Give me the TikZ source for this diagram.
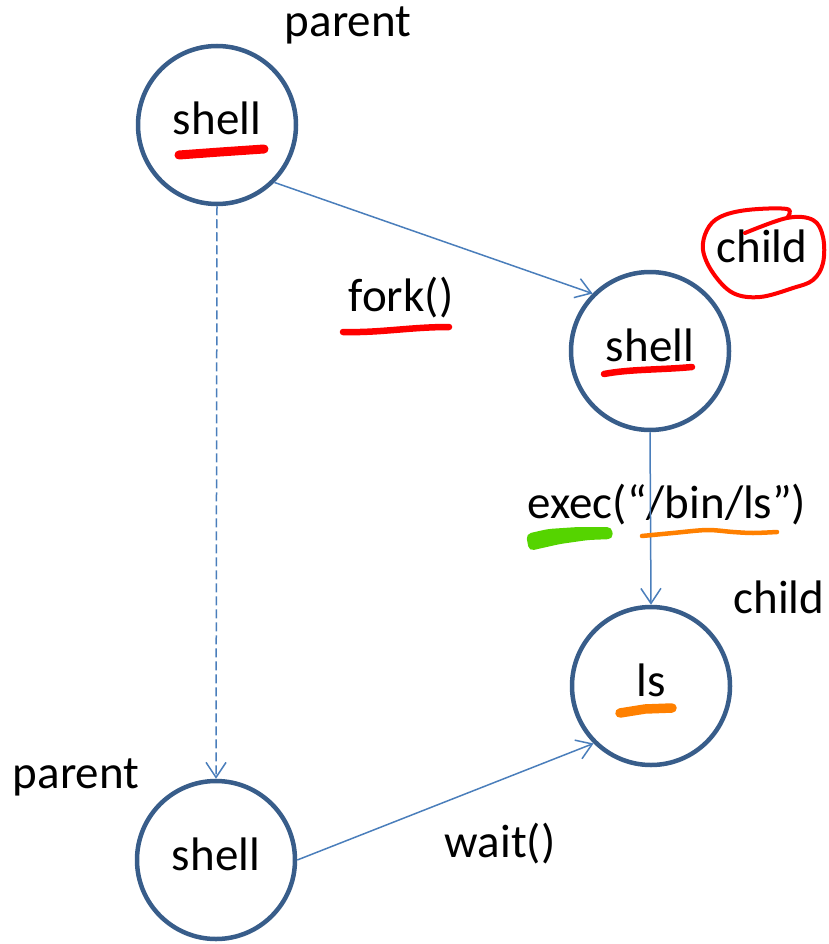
\documentclass[tikz,border=0pt]{standalone}
\usepackage{fontspec}
\setmainfont{Carlito}
\usetikzlibrary{arrows.meta}
\definecolor{circ}{HTML}{385D8A}
\definecolor{conn}{HTML}{4A7EBB}
\definecolor{scred}{HTML}{FF0000}
\definecolor{scorange}{HTML}{FF8000}
\definecolor{scgreen}{HTML}{55D400}
\begin{document}
\begin{tikzpicture}[x=1pt,y=-1pt,
  proc/.style={circle, draw=circ, line width=4.5pt, minimum size=158pt, inner sep=0pt,
    font=\fontsize{47}{50}\selectfont, text height=32pt, text depth=12pt},
  lbl/.style={font=\fontsize{47}{50}\selectfont, inner sep=0pt, anchor=base},
  link/.style={draw=conn, line width=1.5pt, -{Straight Barb[length=15pt,width=20pt,line width=1.5pt]}},
  scrib/.style={line width=#1, line cap=round, line join=round},
]
\useasboundingbox (0,0) rectangle (828,944);

% processes
\node[proc] (top) at (217,125) {shell};
\node[proc] (mid) at (650,351) {shell};
\node[proc] (ls)  at (651,686) {ls};
\node[proc] (bot) at (216,860) {shell};

% labels
\node[lbl] (ptop) at (348,37) {parent};
\node[lbl] (cmid) at (762,262) {child};
\node[lbl] (fork) at (401,311) {fork()};
\node[lbl] (exec) at (667,518) {exec(“/bin/ls”)};
\node[lbl] (cls)  at (779,613) {child};
\node[lbl] (pbot) at (76,788) {parent};
\node[lbl] (wait) at (500,857) {wait()};

% connectors
\draw[link] (top.-45) -- (mid.135);
\draw[link] (mid.south) -- (ls.north);
\draw[link, dash pattern=on 9pt off 4pt] (top.south) -- (bot.north);
\draw[link] (bot.east) -- (ls.225);

% red annotations
\draw[scrib=9pt, scred] (179,155) -- (220,152) -- (264,149);
\draw[scrib=6.5pt, scred] (604,374) .. controls (630,369) and (660,370) .. (692,367);
\draw[scrib=6.5pt, scred] (343,332) .. controls (380,333) and (410,327) .. (449,327);
\draw[scrib=4pt, scred] plot[smooth, tension=0.6] coordinates {
  (745,233) (787,218) (813,220) (823,237) (823,263) (813,280) (793,288)
  (760,297) (733,293) (713,273) (703,250) (707,230) (720,217) (747,210)
  (787,209) (787,218)};

% green annotation
\fill[scgreen, rounded corners=5pt] (526,534) -- (548,529) -- (578,527) -- (612,527)
  -- (613,539) -- (588,540) -- (560,544) -- (529,551) -- cycle;

% orange annotations
\draw[scrib=4.5pt, scorange] plot[smooth] coordinates {
  (642,536) (673,533) (707,530) (733,532) (753,533) (777,532)};
\draw[scrib=9.5pt, scorange] (620,713) -- (645,709) -- (672,708);
\end{tikzpicture}
\end{document}
